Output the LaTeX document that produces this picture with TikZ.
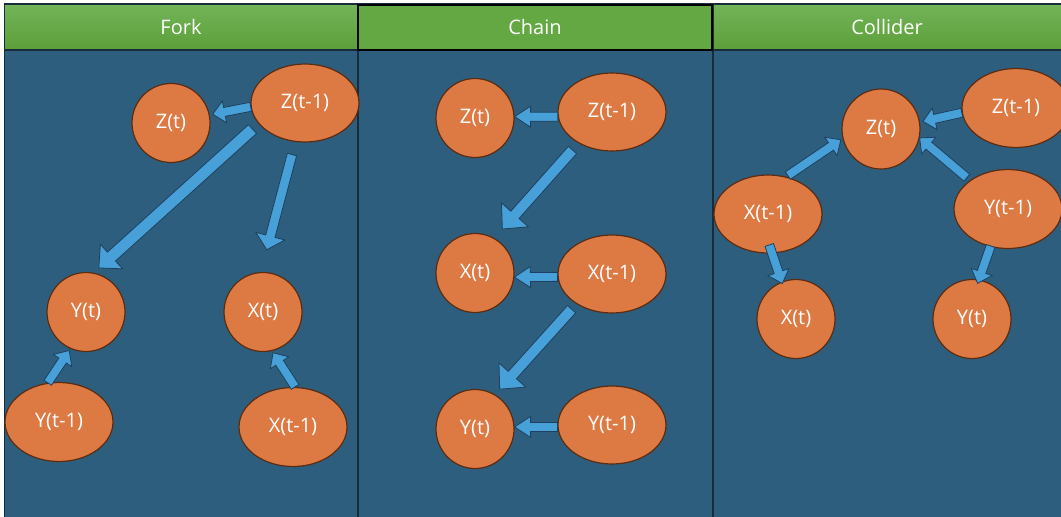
\documentclass[tikz,border=0pt]{standalone}
\usepackage{fontspec}
\setmainfont{Open Sans}
\usetikzlibrary{calc,shapes.geometric}
\definecolor{panelblue}{HTML}{2E5E7E}
\definecolor{gridline}{HTML}{182C3C}
\definecolor{headgreen}{HTML}{63A843}
\definecolor{headtop}{HTML}{73B458}
\definecolor{headbot}{HTML}{5C9F39}
\definecolor{nodeorange}{HTML}{DD7A43}
\definecolor{nodeline}{HTML}{5B2C10}
\definecolor{arrowblue}{HTML}{47A0D8}
\definecolor{arrowline}{HTML}{1E405E}
\tikzset{
  var/.style={ellipse, draw=nodeline, line width=1.2pt, fill=nodeorange, text=white,
    font=\fontsize{20}{24}\selectfont, inner sep=0pt},
  cur/.style={var, minimum width=78pt, minimum height=79pt},
  lag/.style={var, minimum width=108pt, minimum height=78pt},
  header/.style={text=white, font=\fontsize{20}{24}\selectfont},
  barrowst/.style={fill=arrowblue, draw=arrowline, line width=0.8pt, line join=miter},
  divline/.style={draw=gridline, line width=1.3pt},
}
% #1 from, #2 to, #3 start gap, #4 end gap, #5 shaft half width, #6 head half width, #7 head length
\newcommand{\blockarrow}[7]{%
  \coordinate (ba-s) at ($(#1)!#3!(#2)$);
  \coordinate (ba-e) at ($(#2)!#4!(#1)$);
  \coordinate (ba-h) at ($(ba-e)!#7!(ba-s)$);
  \filldraw[barrowst] ($(ba-s)!#5!90:(ba-e)$) -- ($(ba-h)!#5!-90:(ba-s)$) -- ($(ba-h)!#6!-90:(ba-s)$) -- (ba-e) -- ($(ba-h)!#6!90:(ba-s)$) -- ($(ba-h)!#5!90:(ba-s)$) -- ($(ba-s)!#5!-90:(ba-e)$) -- cycle;
}
\newcommand{\smallarrow}[4]{\blockarrow{#1}{#2}{#3}{#4}{4.5pt}{11pt}{12pt}}
\newcommand{\chainarrow}[4]{\blockarrow{#1}{#2}{#3}{#4}{4.5pt}{10.5pt}{16pt}}
\begin{document}
\begin{tikzpicture}[x=1pt,y=-1pt]
\useasboundingbox (0,0) rectangle (1061,517);
\fill[white] (0,0) rectangle (1061,517);
% panels
\fill[panelblue] (4,50) rectangle (1061,517);
\shade[top color=headtop, bottom color=headbot] (4,4) rectangle (358,50);
\fill[headgreen] (358,4) rectangle (713,50);
\shade[top color=headtop, bottom color=headbot] (713,4) rectangle (1061,50);
\draw[divline] (4,4) -- (1061,4);
\draw[divline] (4,50) -- (1061,50);
\draw[divline] (4.5,4) -- (4.5,517);
\draw[divline] (358,4) -- (358,517);
\draw[divline] (713,4) -- (713,517);
\draw[black, line width=1.6pt] (358,5) rectangle (712,50);
\node[header] (hFork) at (181,27) {Fork};
\node[header] (hChain) at (535,27) {Chain};
\node[header] (hCollider) at (887,27) {Collider};
% Fork
\node[cur] (fZ) at (171,123) {Z(t)};
\node[lag] (fZ1) at (305,103) {Z(t-1)};
\node[cur] (fY) at (86,312) {Y(t)};
\node[cur] (fX) at (263,312) {X(t)};
\node[lag, minimum height=79pt] (fY1) at (59,422) {Y(t-1)};
\node[lag, minimum height=79pt] (fX1) at (293,427) {X(t-1)};
% Chain
\node[cur] (cZ) at (475,118) {Z(t)};
\node[lag] (cZ1) at (612,112) {Z(t-1)};
\node[cur] (cX) at (475,273) {X(t)};
\node[lag] (cX1) at (612,274) {X(t-1)};
\node[cur] (cY) at (475,429) {Y(t)};
\node[lag] (cY1) at (612,425) {Y(t-1)};
% Collider
\node[cur, minimum height=80pt] (kZ) at (881,129) {Z(t)};
\node[lag, minimum height=79pt] (kZ1) at (1016,108) {Z(t-1)};
\node[lag] (kX1) at (768,214) {X(t-1)};
\node[lag, minimum height=79pt] (kY1) at (1008,209) {Y(t-1)};
\node[cur] (kX) at (796,319) {X(t)};
\node[cur] (kY) at (972,319) {Y(t)};
% Fork arrows
\smallarrow{fZ1.184}{fZ.12}{0pt}{3pt}
\blockarrow{fZ1.204}{fY.79}{8pt}{7pt}{6pt}{16.5pt}{17pt}
\blockarrow{fZ1.256}{fX.93}{13pt}{23pt}{4.8pt}{15pt}{14pt}
\smallarrow{fY1.106}{fY.247}{0pt}{2pt}
\smallarrow{fX1.87}{fX.283}{0pt}{2pt}
% Chain arrows
\chainarrow{cZ1.185}{cZ.2}{0pt}{0pt}
\blockarrow{cZ1.223}{cX.61}{9pt}{12pt}{5.5pt}{18pt}{19pt}
\chainarrow{cX1.183}{cX.354}{0pt}{0pt}
\blockarrow{cX1.220}{cY.60}{7pt}{7pt}{5.5pt}{18pt}{19pt}
\chainarrow{cY1.182}{cY.3}{0pt}{0pt}
% Collider arrows
\smallarrow{kZ1.185}{kZ.10}{0pt}{3pt}
\smallarrow{kX1.64}{kZ.194}{2pt}{2pt}
\smallarrow{kY1.143}{kZ.347}{4pt}{0pt}
\smallarrow{kX1.276}{kX.111}{-9pt}{-2pt}
\smallarrow{kY1.245}{kY.80}{-1pt}{-4pt}
\end{tikzpicture}
\end{document}
